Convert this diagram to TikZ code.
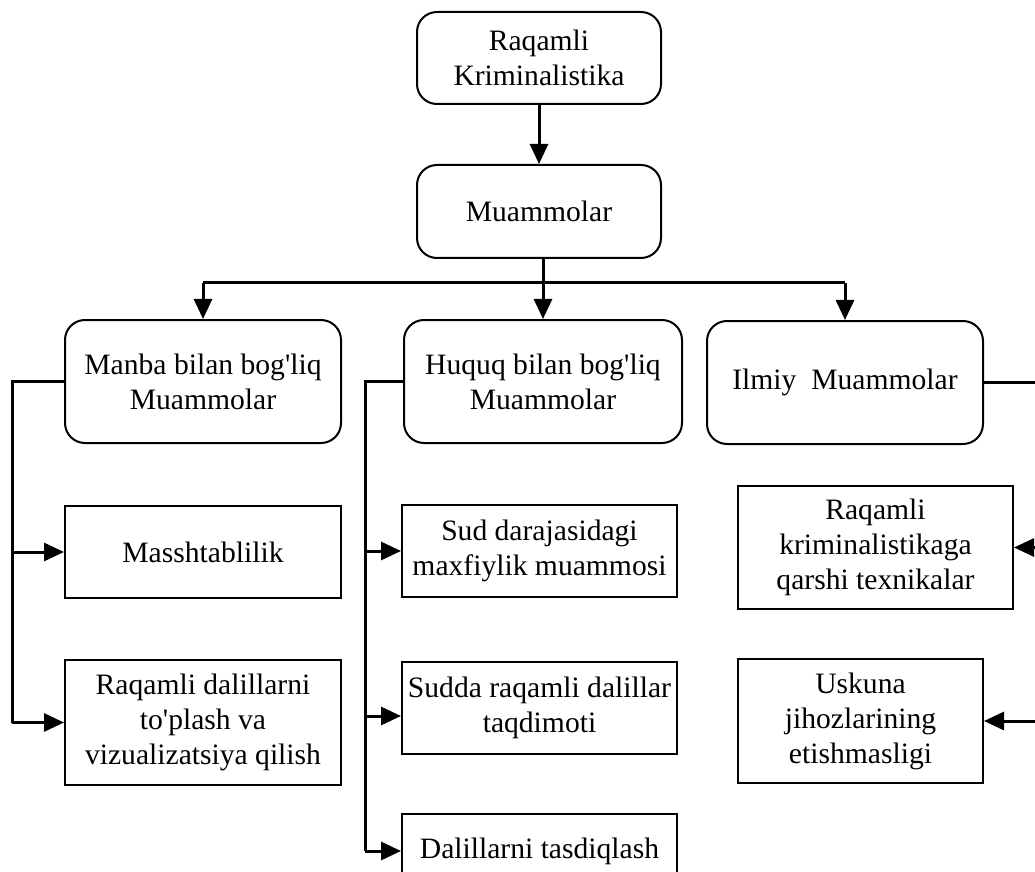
\documentclass[tikz,border=0pt]{standalone}
\usepackage{fontspec}
\setmainfont{Liberation Serif}
\usetikzlibrary{arrows.meta}
\newcommand{\ap}{\textquotesingle}
\begin{document}
\begin{tikzpicture}[x=0.5pt,y=-0.5pt,
  base/.style={draw=black, line width=1pt, align=center, inner sep=2pt,
    font=\fontsize{14.8}{17.5}\selectfont, text=black},
  rbox/.style={base, rounded corners=10pt},
  sbox/.style={base},
  conn/.style={line width=1.5pt},
  arr/.style={conn, -{Triangle[length=10pt,width=9pt]}}]
\useasboundingbox (0,0) rectangle (1035,872);
\clip (0,0) rectangle (1035,872);
\fill[white] (0,0) rectangle (1035,872);
% nodes
\node[rbox, minimum width=122pt, minimum height=46pt] (top) at (539,58) {Raqamli\\Kriminalistika};
\node[rbox, minimum width=122pt, minimum height=46.5pt] (mu) at (539,211.5) {Muammolar};
\node[rbox, minimum width=138pt, minimum height=61.5pt] (manba) at (203,381.5) {Manba bilan bog\ap liq\\Muammolar};
\node[rbox, minimum width=139pt, minimum height=61.5pt] (huquq) at (543,381.5) {Huquq bilan bog\ap liq\\Muammolar};
\node[rbox, minimum width=138pt, minimum height=61.5pt] (ilmiy) at (845,382.5) {Ilmiy~~Muammolar};
\node[sbox, minimum width=138pt, minimum height=46pt] (mass) at (203,552) {Masshtablilik};
\node[sbox, minimum width=138pt, minimum height=62.5pt] (raq) at (203,722.5) {Raqamli dalillarni\\to\ap plash va\\vizualizatsiya qilish};
\node[sbox, minimum width=137.5pt, minimum height=46pt] (sud) at (539.5,551) {Sud darajasidagi\\maxfiylik muammosi};
\node[sbox, minimum width=137.5pt, minimum height=46pt] (sudda) at (539.5,708) {Sudda raqamli dalillar\\taqdimoti};
\node[sbox, minimum width=137.5pt, minimum height=37pt] (tas) at (539.5,851) {Dalillarni tasdiqlash};
\node[sbox, minimum width=137.5pt, minimum height=61.5pt] (anti) at (875.5,547.5) {Raqamli\\kriminalistikaga\\qarshi texnikalar};
\node[sbox, minimum width=122.5pt, minimum height=62pt] (usk) at (860.5,721) {Uskuna\\jihozlarining\\etishmasligi};
% helper coordinates
\coordinate (j) at (543,283);
\coordinate (L) at (12,0);
\coordinate (M) at (365,0);
\coordinate (R) at (1045,0);
% connectors
\draw[arr] (top) -- (mu);
\draw[arr] (mu.south -| huquq.north) -- (huquq.north);
\draw[conn] (manba.north |- j) -- (ilmiy.north |- j);
\draw[arr] (manba.north |- j) -- (manba.north);
\draw[arr] (ilmiy.north |- j) -- (ilmiy.north);
\draw[conn] (manba.west) -- (manba.west -| L) -- (L |- raq.west);
\draw[arr] (L |- mass.west) -- (mass.west);
\draw[arr] (L |- raq.west) -- (raq.west);
\draw[conn] (huquq.west) -- (huquq.west -| M) -- (M |- tas.west);
\draw[arr] (M |- sud.west) -- (sud.west);
\draw[arr] ([yshift=-4pt]M |- sudda.west) -- ([yshift=-4pt]sudda.west);
\draw[arr] (M |- tas.west) -- (tas.west);
\draw[conn] (ilmiy.east) -- (ilmiy.east -| R) -- (R |- usk.east);
\draw[arr] (R |- anti.east) -- (anti.east);
\draw[arr] (R |- usk.east) -- (usk.east);
\end{tikzpicture}
\end{document}
